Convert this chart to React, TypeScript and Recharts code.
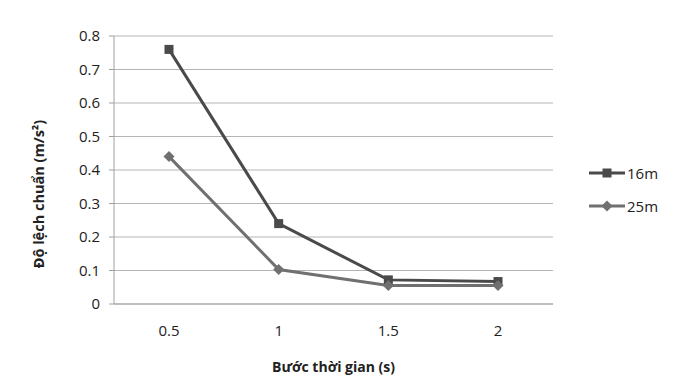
import React from "react";
import { LineChart, Line, XAxis, YAxis, CartesianGrid, Label } from "recharts";

const steps = ["0.5", "1", "1.5", "2"];
const dev16m = [0.76, 0.24, 0.072, 0.067];
const dev25m = [0.44, 0.103, 0.055, 0.055];
const yTicks = [0, 0.1, 0.2, 0.3, 0.4, 0.5, 0.6, 0.7, 0.8];

const data = steps.map((s, i) => ({ step: s, m16: dev16m[i], m25: dev25m[i] }));

const C16 = "#4a4a4a";
const C25 = "#707070";
const FONT = "'Open Sans', sans-serif";

function SquareDot(props: any) {
  const { cx, cy } = props;
  if (cx == null || cy == null) return null;
  return <rect x={cx - 4.5} y={cy - 4.5} width={9} height={9} fill={C16} />;
}

function DiamondDot(props: any) {
  const { cx, cy } = props;
  if (cx == null || cy == null) return null;
  const r = 5.5;
  return <path d={`M${cx},${cy - r}L${cx + r},${cy}L${cx},${cy + r}L${cx - r},${cy}Z`} fill={C25} />;
}

// legend sits outside the plot on the right, like the Excel original
function LegendBox() {
  const items = [
    { name: "16m", color: C16, shape: "square" },
    { name: "25m", color: C25, shape: "diamond" },
  ];
  return (
    <div style={{ position: "absolute", left: 589, top: 156, fontFamily: FONT, fontSize: 15, color: "#222" }}>
      {items.map((it) => (
        <div key={it.name} style={{ display: "flex", alignItems: "center", height: 33 }}>
          <svg width={36} height={14} style={{ marginRight: 2 }}>
            <line x1={0} y1={7} x2={36} y2={7} stroke={it.color} strokeWidth={3} />
            {it.shape === "square" ? (
              <rect x={13.5} y={2.5} width={9} height={9} fill={it.color} />
            ) : (
              <path d="M18,1.5L23.5,7L18,12.5L12.5,7Z" fill={it.color} />
            )}
          </svg>
          <span>{it.name}</span>
        </div>
      ))}
    </div>
  );
}

export default function App() {
  return (
    <div style={{ position: "absolute", left: 0, top: 0, width: 680, height: 378, background: "#fff" }}>
      <LineChart width={680} height={378} data={data} margin={{ top: 36, right: 127, bottom: 0, left: 0 }}>
        <CartesianGrid horizontal vertical={false} stroke="#b5b5b5" strokeWidth={1} />
        <XAxis
          dataKey="step"
          height={74}
          padding={{ left: 55, right: 55 }}
          tickLine={false}
          tickSize={0}
          tickMargin={21}
          axisLine={{ stroke: "#a0a0a0" }}
          tick={{ fill: "#222", fontSize: 15, fontFamily: FONT }}
        >
          <Label
            value="Bước thời gian (s)"
            position="insideBottom"
            offset={6}
            style={{ fill: "#222", fontSize: 14, fontWeight: 700, fontFamily: FONT }}
          />
        </XAxis>
        <YAxis
          width={114}
          domain={[0, 0.8]}
          ticks={yTicks}
          interval={0}
          tickSize={5}
          tickMargin={9}
          tickLine={{ stroke: "#a0a0a0" }}
          axisLine={{ stroke: "#a0a0a0" }}
          tick={{ fill: "#222", fontSize: 15, fontFamily: FONT }}
        >
          <Label
            value="Độ lệch chuẩn (m/s²)"
            angle={-90}
            position="insideLeft"
            offset={39}
            dy={24}
            style={{ fill: "#222", fontSize: 14.5, fontWeight: 700, fontFamily: FONT, textAnchor: "middle" }}
          />
        </YAxis>
        <Line
          dataKey="m16"
          name="16m"
          stroke={C16}
          strokeWidth={3}
          dot={<SquareDot />}
          activeDot={false}
          isAnimationActive={false}
        />
        <Line
          dataKey="m25"
          name="25m"
          stroke={C25}
          strokeWidth={3}
          dot={<DiamondDot />}
          activeDot={false}
          isAnimationActive={false}
        />
      </LineChart>
      <LegendBox />
    </div>
  );
}
